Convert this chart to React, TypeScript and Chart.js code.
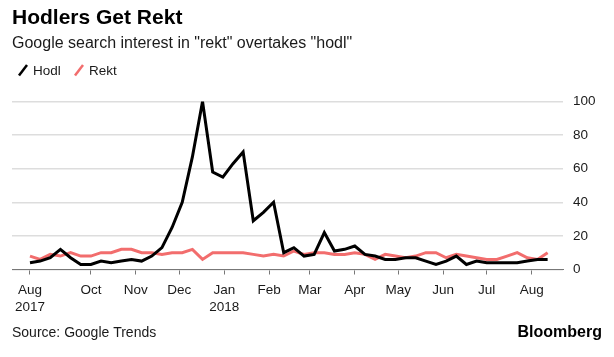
import React, { useEffect, useRef } from "react";
import { Chart, registerables } from "chart.js";

Chart.register(...registerables);

// Weekly Google Trends data, starting Sunday 2017-08-20
const startDate = [2017, 7, 20];
const hodlValues = [4, 5, 7, 12, 7, 3, 3, 5, 4, 5, 6, 5, 8, 13, 25, 40, 67, 100, 58, 55, 63, 70, 29, 34, 40, 10, 13, 8, 9, 22, 11, 12, 14, 9, 8, 6, 6, 7, 7, 5, 3, 5, 8, 3, 5, 4, 4, 4, 4, 5, 6, 6];
const rektValues = [8, 6, 9, 8, 10, 8, 8, 10, 10, 12, 12, 10, 10, 9, 10, 10, 12, 6, 10, 10, 10, 10, 9, 8, 9, 8, 11, 9, 10, 10, 9, 9, 10, 9, 6, 9, 8, 7, 8, 10, 10, 7, 9, 8, 7, 6, 6, 8, 10, 7, 6, 10];
const tickDates = [
  [2017, 7, 20], [2017, 9, 1], [2017, 10, 1], [2017, 11, 1], [2018, 0, 1], [2018, 1, 1],
  [2018, 2, 1], [2018, 3, 1], [2018, 4, 1], [2018, 5, 1], [2018, 6, 1], [2018, 7, 1],
];
const tickLabels: (string | string[])[] = [
  ["Aug", "2017"], "Oct", "Nov", "Dec", ["Jan", "2018"], "Feb", "Mar", "Apr", "May", "Jun", "Jul", "Aug",
];
const yTicks = [0, 20, 40, 60, 80, 100];
const seriesNames = ["Hodl", "Rekt"];

const DAY = 86400000;
const t0 = Date.UTC(startDate[0], startDate[1], startDate[2]);
const dayOf = (d: number[]) => (Date.UTC(d[0], d[1], d[2]) - t0) / DAY;
const tickDays = tickDates.map(dayOf);

const FONT = "'Liberation Sans', Arial, Helvetica, sans-serif";
const HODL_COLOR = "#000000";
const REKT_COLOR = "#f26d6d";

const textPlugin = {
  id: "texts",
  afterDraw(chart: any) {
    const ctx = chart.ctx as CanvasRenderingContext2D;
    ctx.save();
    ctx.textBaseline = "alphabetic";
    ctx.textAlign = "left";
    ctx.fillStyle = "#000";
    ctx.font = `bold 21px ${FONT}`;
    ctx.fillText("Hodlers Get Rekt", 12, 24);
    ctx.fillStyle = "#1a1a1a";
    ctx.font = `16px ${FONT}`;
    ctx.fillText('Google search interest in "rekt" overtakes "hodl"', 12, 47.5);

    // legend
    const colors = [HODL_COLOR, REKT_COLOR];
    const xs = [19, 75];
    ctx.font = `13.5px ${FONT}`;
    seriesNames.forEach((name, i) => {
      const x = xs[i];
      ctx.strokeStyle = colors[i];
      ctx.lineWidth = 2.5;
      ctx.lineCap = "butt";
      ctx.beginPath();
      ctx.moveTo(x, 75.5);
      ctx.lineTo(x + 8, 65);
      ctx.stroke();
      ctx.fillStyle = "#1a1a1a";
      ctx.fillText(name, x + 14, 75);
    });

    // footer
    ctx.font = `14px ${FONT}`;
    ctx.fillStyle = "#1a1a1a";
    ctx.fillText("Source: Google Trends", 12, 337);
    ctx.font = `bold 16px ${FONT}`;
    ctx.fillStyle = "#000";
    ctx.textAlign = "right";
    ctx.fillText("Bloomberg", 602, 337);
    ctx.restore();
  },
};

export default function App() {
  const ref = useRef<HTMLCanvasElement>(null);
  useEffect(() => {
    document.body.style.margin = "0";
    const canvas = ref.current!;
    const chart = new Chart(canvas, {
      type: "line",
      data: {
        datasets: [
          {
            label: seriesNames[0],
            data: hodlValues.map((v, i) => ({ x: i * 7, y: v })),
            borderColor: HODL_COLOR,
            borderWidth: 3,
            pointRadius: 0,
            tension: 0,
            borderJoinStyle: "miter",
          },
          {
            label: seriesNames[1],
            data: rektValues.map((v, i) => ({ x: i * 7, y: v })),
            borderColor: REKT_COLOR,
            borderWidth: 3,
            pointRadius: 0,
            tension: 0,
          },
        ],
      },
      options: {
        responsive: false,
        animation: false,
        devicePixelRatio: 1,
        layout: { padding: { top: 101.5, left: 12, right: 0, bottom: 0 } },
        plugins: { legend: { display: false }, tooltip: { enabled: false }, title: { display: false } },
        scales: {
          x: {
            type: "linear",
            min: -12.4,
            max: 367.6,
            afterBuildTicks: (s: any) => {
              s.ticks = tickDays.map((v) => ({ value: v }));
            },
            afterFit: (s: any) => {
              s.height = 357 - 269.5;
            },
            ticks: {
              autoSkip: false,
              maxRotation: 0,
              padding: 8,
              color: "#1a1a1a",
              font: { family: FONT, size: 13.5, lineHeight: 1.2 },
              callback: (_v: any, i: number) => tickLabels[i],
            },
            grid: { drawOnChartArea: false, drawTicks: true, tickLength: 5, color: "#777", lineWidth: 1 },
            border: { display: true, color: "#777", width: 1 },
          },
          y: {
            position: "right",
            min: 0,
            max: 100,
            afterBuildTicks: (s: any) => {
              s.ticks = yTicks.map((v) => ({ value: v }));
            },
            afterFit: (s: any) => {
              s.width = 51;
            },
            ticks: {
              padding: 10,
              color: "#1a1a1a",
              font: { family: FONT, size: 13.5 },
            },
            grid: { drawTicks: false, color: "#dddddd", lineWidth: 1.5 },
            border: { display: false },
          },
        },
      },
      plugins: [textPlugin],
    } as any);
    return () => chart.destroy();
  }, []);
  return (
    <div style={{ width: 614, height: 357, background: "#fff" }}>
      <canvas ref={ref} width={614} height={357} style={{ display: "block" }} />
    </div>
  );
}
